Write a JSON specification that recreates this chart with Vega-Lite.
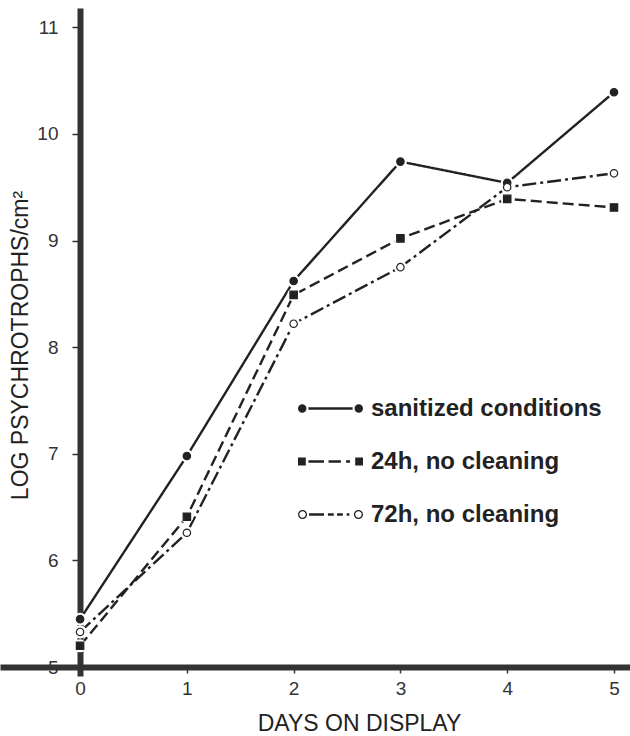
{
  "$schema": "https://vega.github.io/schema/vega-lite/v6.json",
  "autosize": {"type": "none"},
  "padding": {"left": 0, "top": 8, "right": 0, "bottom": 60},
  "width": 630,
  "height": 668,
  "background": "white",
  "config": {
    "view": {"stroke": null},
    "font": "Liberation Sans"
  },
  "data": {
    "values": [
      {"day": 0, "value": 5.45, "series": "sanitized conditions"},
      {"day": 1, "value": 6.98, "series": "sanitized conditions"},
      {"day": 2, "value": 8.62, "series": "sanitized conditions"},
      {"day": 3, "value": 9.74, "series": "sanitized conditions"},
      {"day": 4, "value": 9.54, "series": "sanitized conditions"},
      {"day": 5, "value": 10.39, "series": "sanitized conditions"},
      {"day": 0, "value": 5.2, "series": "24h, no cleaning"},
      {"day": 1, "value": 6.41, "series": "24h, no cleaning"},
      {"day": 2, "value": 8.49, "series": "24h, no cleaning"},
      {"day": 3, "value": 9.02, "series": "24h, no cleaning"},
      {"day": 4, "value": 9.39, "series": "24h, no cleaning"},
      {"day": 5, "value": 9.31, "series": "24h, no cleaning"},
      {"day": 0, "value": 5.33, "series": "72h, no cleaning"},
      {"day": 1, "value": 6.26, "series": "72h, no cleaning"},
      {"day": 2, "value": 8.22, "series": "72h, no cleaning"},
      {"day": 3, "value": 8.75, "series": "72h, no cleaning"},
      {"day": 4, "value": 9.5, "series": "72h, no cleaning"},
      {"day": 5, "value": 9.63, "series": "72h, no cleaning"}
    ]
  },
  "encoding": {
    "x": {
      "field": "day", "type": "quantitative",
      "scale": {"domain": [-0.75, 5.15], "nice": false, "zero": false},
      "axis": {
        "orient": "bottom", "offset": -9, "values": [0, 1, 2, 3, 4, 5], "grid": false,
        "domainColor": "#333", "domainWidth": 6, "domainCap": "butt",
        "tickColor": "#333", "tickWidth": 1.5, "tickSize": 6,
        "labelFont": "Liberation Sans", "labelFontSize": 19, "labelColor": "#333", "labelPadding": 6,
        "title": "DAYS ON DISPLAY", "titleFont": "Liberation Sans", "titleFontSize": 23, "titleFontWeight": "normal",
        "titleColor": "#222", "titleX": 359, "titleY": 63, "titleBaseline": "alphabetic", "titleAnchor": "middle"
      }
    },
    "y": {
      "field": "value", "type": "quantitative",
      "scale": {"domain": [4.917, 11.18], "nice": false, "zero": false},
      "axis": {
        "orient": "left", "offset": -80, "values": [5, 6, 7, 8, 9, 10, 11], "grid": false,
        "domainColor": "#333", "domainWidth": 6, "domainCap": "butt",
        "tickColor": "#333", "tickWidth": 1.5, "tickSize": 8,
        "labelFont": "Liberation Sans", "labelFontSize": 19, "labelColor": "#333", "labelPadding": 14,
        "title": "LOG PSYCHROTROPHS/cm²", "titleFont": "Liberation Sans", "titleFontSize": 23, "titleFontWeight": "normal",
        "titleColor": "#222", "titleX": -60, "titleY": 337, "titleAngle": 270, "titleBaseline": "middle", "titleAnchor": "middle"
      }
    }
  },
  "layer": [
    {
      "mark": {"type": "line", "color": "#222", "strokeWidth": 2.4},
      "encoding": {
        "detail": {"field": "series"},
        "strokeDash": {
          "field": "series", "type": "nominal",
          "scale": {"domain": ["sanitized conditions", "24h, no cleaning", "72h, no cleaning"], "range": [[1, 0], [11, 5], [14, 4, 3, 4]]},
          "legend": null
        }
      }
    },
    {
      "mark": {"type": "point", "filled": true, "color": "white", "size": 170, "opacity": 1, "shape": "circle"},
      "encoding": {}
    },
    {
      "mark": {"type": "point", "stroke": "#222", "strokeWidth": 1.2, "size": 55, "opacity": 1},
      "encoding": {
        "shape": {
          "field": "series", "type": "nominal",
          "scale": {"domain": ["sanitized conditions", "24h, no cleaning", "72h, no cleaning"], "range": ["circle", "square", "circle"]},
          "legend": null
        },
        "fill": {
          "field": "series", "type": "nominal",
          "scale": {"domain": ["sanitized conditions", "24h, no cleaning", "72h, no cleaning"], "range": ["#222", "#222", "white"]},
          "legend": null
        }
      }
    },
    {
      "transform": [{"filter": "datum.day > 100"}],
      "mark": {"type": "point", "filled": true, "color": "#222", "strokeWidth": 0, "opacity": 1},
      "encoding": {
        "shape": {
          "field": "series", "type": "nominal",
          "scale": {
            "domain": ["sanitized conditions", "24h, no cleaning", "72h, no cleaning"],
            "range": [
              "M-0.74,0 A0.13,0.13 0 1,1 -1,0 A0.13,0.13 0 1,1 -0.74,0 Z M1,0 A0.13,0.13 0 1,1 0.74,0 A0.13,0.13 0 1,1 1,0 Z M-0.68,-0.04 H0.68 V0.04 H-0.68 Z",
              "M-1,-0.12 H-0.76 V0.12 H-1 Z M0.76,-0.12 H1 V0.12 H0.76 Z M-0.68,-0.04 H-0.2 V0.04 H-0.68 Z M-0.06,-0.04 H0.32 V0.04 H-0.06 Z M0.48,-0.04 H0.6 V0.04 H0.48 Z",
              "M-0.72,0 A0.14,0.14 0 1,1 -1,0 A0.14,0.14 0 1,1 -0.72,0 Z M-0.76,0 A0.1,0.1 0 1,0 -0.96,0 A0.1,0.1 0 1,0 -0.76,0 Z M1,0 A0.14,0.14 0 1,1 0.72,0 A0.14,0.14 0 1,1 1,0 Z M0.96,0 A0.1,0.1 0 1,0 0.76,0 A0.1,0.1 0 1,0 0.96,0 Z M-0.66,-0.04 H-0.2 V0.04 H-0.66 Z M-0.08,-0.04 H0.1 V0.04 H-0.08 Z M0.2,-0.04 H0.38 V0.04 H0.2 Z M0.5,-0.04 H0.58 V0.04 H0.5 Z"
            ]
          },
          "legend": {
            "title": null, "orient": "none", "legendX": 298, "legendY": 368,
            "symbolSize": 4225, "symbolStrokeWidth": 0, "symbolFillColor": "#222", "symbolOpacity": 1,
            "labelFont": "Liberation Sans", "labelFontSize": 24, "labelFontWeight": "bold", "labelColor": "#222",
            "labelOffset": 8, "labelLimit": 0, "rowPadding": 8
          }
        }
      }
    }
  ],
  "resolve": {"scale": {"shape": "independent"}}
}
